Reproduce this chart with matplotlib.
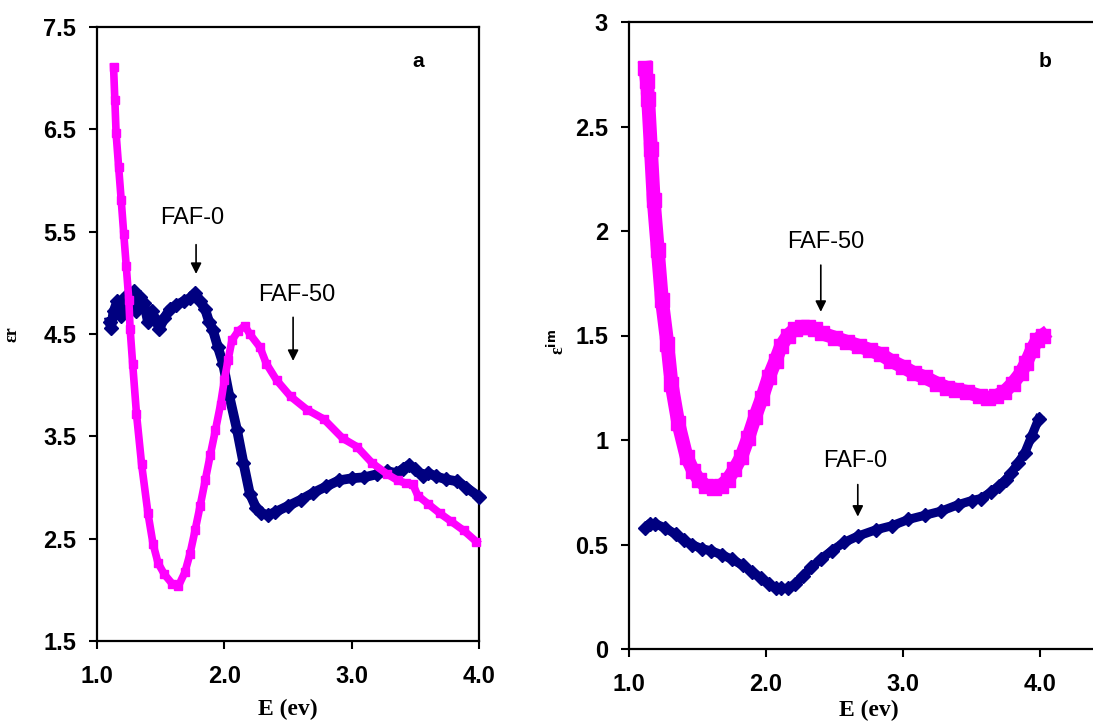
import matplotlib
matplotlib.use("Agg")
import matplotlib.pyplot as plt

# ---------------- data ----------------
# panel a : real part (eps_r)
e_faf50_a = [1.13, 1.14, 1.15, 1.17, 1.19, 1.21, 1.23, 1.25, 1.26, 1.28,
             1.31, 1.35, 1.40, 1.44, 1.48, 1.53, 1.59, 1.64, 1.69, 1.73,
             1.77, 1.81, 1.85, 1.89, 1.93, 1.97, 2.00, 2.03, 2.06, 2.11,
             2.16, 2.20, 2.28, 2.33, 2.41, 2.52, 2.65, 2.78, 2.93, 3.04,
             3.16, 3.28, 3.36, 3.43, 3.48, 3.52, 3.60, 3.69, 3.78, 3.88, 3.98]
er_faf50 = [7.11, 6.79, 6.46, 6.13, 5.81, 5.48, 5.16, 4.83, 4.55, 4.21,
            3.72, 3.23, 2.75, 2.45, 2.26, 2.15, 2.06, 2.04, 2.17, 2.35,
            2.58, 2.82, 3.07, 3.32, 3.56, 3.81, 4.05, 4.25, 4.44, 4.53,
            4.58, 4.50, 4.37, 4.21, 4.05, 3.89, 3.76, 3.67, 3.48, 3.40,
            3.24, 3.13, 3.07, 3.04, 3.03, 2.92, 2.84, 2.75, 2.67, 2.58, 2.47]

e_faf0_a = [1.10, 1.11, 1.13, 1.16, 1.19, 1.22, 1.25, 1.29, 1.31, 1.34,
            1.37, 1.40, 1.43, 1.46, 1.49, 1.53, 1.57, 1.62, 1.68, 1.73,
            1.77, 1.81, 1.85, 1.88, 1.91, 1.95, 1.99, 2.04, 2.10, 2.15,
            2.20, 2.25, 2.29, 2.34, 2.40, 2.50, 2.60, 2.70, 2.80, 2.90,
            3.00, 3.10, 3.20, 3.28, 3.35, 3.40, 3.45, 3.50, 3.56, 3.60,
            3.66, 3.74, 3.83, 3.90, 4.00]
er_faf0 = [4.62, 4.56, 4.72, 4.82, 4.68, 4.86, 4.88, 4.92, 4.72, 4.86,
           4.80, 4.62, 4.72, 4.64, 4.55, 4.66, 4.74, 4.78, 4.82, 4.85,
           4.90, 4.82, 4.74, 4.62, 4.54, 4.37, 4.21, 3.89, 3.56, 3.24,
           2.94, 2.80, 2.75, 2.73, 2.76, 2.82, 2.88, 2.95, 3.01, 3.07,
           3.09, 3.10, 3.13, 3.16, 3.14, 3.18, 3.22, 3.18, 3.11, 3.14,
           3.11, 3.08, 3.06, 3.00, 2.91]

# panel b : imaginary part (eps_im)
e_faf50_b = [1.12, 1.13, 1.14, 1.16, 1.18, 1.21, 1.24, 1.28, 1.31, 1.36,
             1.42, 1.47, 1.51, 1.56, 1.62, 1.67, 1.72, 1.77, 1.82, 1.87,
             1.92, 1.97, 2.02, 2.07, 2.11, 2.16, 2.21, 2.26, 2.31, 2.36,
             2.41, 2.50, 2.59, 2.68, 2.76, 2.84, 2.91, 3.00, 3.08, 3.16,
             3.25, 3.32, 3.39, 3.47, 3.56, 3.62, 3.68, 3.74, 3.80, 3.86,
             3.90, 3.94, 3.98, 4.02]
eim_faf50 = [2.78, 2.72, 2.63, 2.39, 2.15, 1.91, 1.67, 1.46, 1.27, 1.08,
             0.92, 0.85, 0.81, 0.78, 0.77, 0.78, 0.81, 0.86, 0.92, 1.01,
             1.11, 1.20, 1.30, 1.38, 1.45, 1.50, 1.53, 1.54, 1.54, 1.53,
             1.51, 1.49, 1.47, 1.45, 1.43, 1.41, 1.38, 1.35, 1.32, 1.30,
             1.27, 1.25, 1.24, 1.23, 1.21, 1.20, 1.21, 1.23, 1.27, 1.32,
             1.37, 1.43, 1.48, 1.50]

e_faf0_b = [1.12, 1.15, 1.19, 1.26, 1.34, 1.40, 1.46, 1.53, 1.60, 1.68,
            1.75, 1.83, 1.90, 1.96, 2.02, 2.07, 2.11, 2.16, 2.21, 2.27,
            2.33, 2.40, 2.48, 2.57, 2.67, 2.80, 2.92, 3.04, 3.16, 3.28,
            3.40, 3.50, 3.57, 3.64, 3.70, 3.75, 3.79, 3.84, 3.89, 3.94, 3.99]
eim_faf0 = [0.58, 0.60, 0.60, 0.58, 0.55, 0.52, 0.50, 0.48, 0.47, 0.45,
            0.43, 0.40, 0.37, 0.34, 0.31, 0.29, 0.29, 0.29, 0.31, 0.35,
            0.39, 0.43, 0.47, 0.51, 0.54, 0.57, 0.59, 0.62, 0.64, 0.66,
            0.69, 0.71, 0.72, 0.75, 0.78, 0.81, 0.84, 0.89, 0.94, 1.02, 1.10]

xticks = [1.0, 2.0, 3.0, 4.0]
xticklabels = ["1.0", "2.0", "3.0", "4.0"]
yticks_a = [1.5, 2.5, 3.5, 4.5, 5.5, 6.5, 7.5]
yticklabels_a = ["1.5", "2.5", "3.5", "4.5", "5.5", "6.5", "7.5"]
yticks_b = [0, 0.5, 1, 1.5, 2, 2.5, 3]
yticklabels_b = ["0", "0.5", "1", "1.5", "2", "2.5", "3"]

NAVY = "#000080"
MAGENTA = "#FF00FF"

# ---------------- figure ----------------
fig = plt.figure(figsize=(10.93, 7.22), dpi=100)
W, H = 1093, 722

def px_axes(l, t, r, b):
    return fig.add_axes([l / W, 1 - b / H, (r - l) / W, (b - t) / H])

ax1 = px_axes(97, 27, 479, 641)
ax2 = px_axes(629, 22, 629 + 3.5 * 137, 649)

tickfont = dict(family="Liberation Sans", weight="bold", size=17)
serif_bold = dict(family="Liberation Serif", weight="bold")

def style(ax, xlim, ylim, yt, ytl):
    ax.set_xlim(*xlim)
    ax.set_ylim(*ylim)
    ax.set_xticks(xticks)
    ax.set_xticklabels(xticklabels, fontdict=tickfont)
    ax.set_yticks(yt)
    ax.set_yticklabels(ytl, fontdict=tickfont)
    ax.tick_params(direction="out", length=6, width=1.5, colors="black")
    ax.tick_params(axis="y", pad=9)
    ax.tick_params(axis="x", pad=11)
    for s in ax.spines.values():
        s.set_linewidth(1.6)
        s.set_color("black")

# panel a
ax1.plot(e_faf0_a, er_faf0, color=NAVY, lw=7, marker="D", ms=7.5,
         zorder=3, clip_on=False)
ax1.plot(e_faf50_a, er_faf50, color=MAGENTA, lw=5.5, marker="s", ms=6,
         zorder=4, clip_on=False)
style(ax1, (1.0, 4.0), (1.5, 7.5), yticks_a, yticklabels_a)
ax1.set_xlabel("E (ev)", fontsize=17, labelpad=8, **serif_bold)
ax1.set_ylabel("εr", fontsize=13, **serif_bold)
ax1.yaxis.set_label_coords(-0.20, 0.50)

ax1.text(1.746, 5.63, "FAF-0", fontsize=17, family="Liberation Sans",
         ha="center", va="center")
ax1.annotate("", xy=(1.778, 5.06), xytext=(1.778, 5.40),
             arrowprops=dict(arrowstyle="-|>", color="black", lw=1.2,
                             mutation_scale=16))
ax1.text(2.571, 4.88, "FAF-50", fontsize=17, family="Liberation Sans",
         ha="center", va="center")
ax1.annotate("", xy=(2.54, 4.21), xytext=(2.54, 4.69),
             arrowprops=dict(arrowstyle="-|>", color="black", lw=1.2,
                             mutation_scale=16))
ax1.text(3.52, 7.16, "a", fontsize=15, family="Liberation Sans",
         weight="bold", ha="center", va="center")

# panel b
ax2.plot(e_faf0_b, eim_faf0, color=NAVY, lw=6.5, marker="D", ms=7,
         zorder=3, clip_on=False)
ax2.plot(e_faf50_b, eim_faf50, color=MAGENTA, lw=10, marker="s", ms=10,
         zorder=4, clip_on=False)
style(ax2, (1.0, 4.5), (0, 3), yticks_b, yticklabels_b)
ax2.set_xlabel("E (ev)", fontsize=17, labelpad=3, **serif_bold)
ax2.set_ylabel("ε$^{\\mathbf{im}}$", fontsize=13, **serif_bold)
ax2.yaxis.set_label_coords(-0.127, 0.49)

ax2.text(2.438, 1.947, "FAF-50", fontsize=17, family="Liberation Sans",
         ha="center", va="center")
ax2.annotate("", xy=(2.40, 1.60), xytext=(2.40, 1.85),
             arrowprops=dict(arrowstyle="-|>", color="black", lw=1.2,
                             mutation_scale=16))
ax2.text(2.65, 0.90, "FAF-0", fontsize=17, family="Liberation Sans",
         ha="center", va="center")
ax2.annotate("", xy=(2.67, 0.62), xytext=(2.67, 0.80),
             arrowprops=dict(arrowstyle="-|>", color="black", lw=1.2,
                             mutation_scale=16))
ax2.text(4.04, 2.81, "b", fontsize=15, family="Liberation Sans",
         weight="bold", ha="center", va="center")

fig.savefig("out.png", dpi=100)
